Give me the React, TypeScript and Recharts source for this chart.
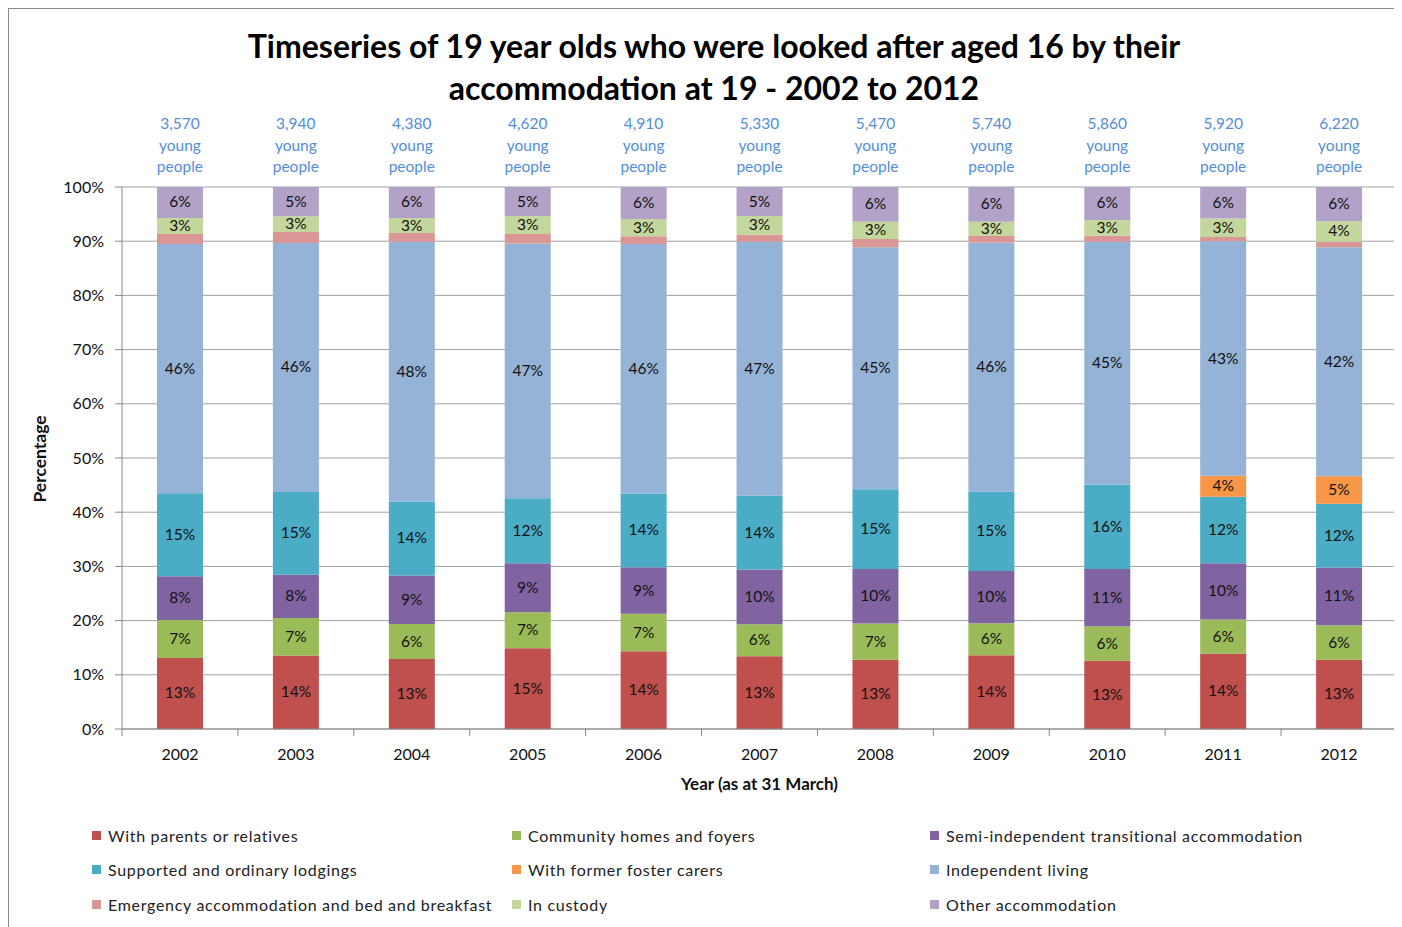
import { BarChart, Bar, XAxis, YAxis, CartesianGrid, LabelList } from 'recharts';

const years = ['2002', '2003', '2004', '2005', '2006', '2007', '2008', '2009', '2010', '2011', '2012'];
const totals = ['3,570', '3,940', '4,380', '4,620', '4,910', '5,330', '5,470', '5,740', '5,860', '5,920', '6,220'];

const parents = [13.1, 13.55, 12.9, 14.9, 14.36, 13.4, 12.76, 13.55, 12.6, 13.87, 12.76];
const community = [7.0, 6.9, 6.45, 6.65, 6.9, 5.9, 6.7, 5.9, 6.4, 6.3, 6.4];
const semiIndependent = [8.1, 7.95, 8.95, 9.0, 8.6, 10.07, 10.07, 9.6, 10.6, 10.4, 10.65];
const supported = [15.3, 15.25, 13.65, 12.0, 13.6, 13.6, 14.7, 14.6, 15.6, 12.25, 11.75];
const fosterCarers = [0, 0, 0, 0, 0, 0, 0, 0, 0, 3.85, 5.1];
const independent = [46.0, 45.85, 47.85, 47.0, 46.1, 46.8, 44.7, 45.85, 44.9, 43.25, 42.25];
const emergency = [1.85, 2.0, 1.6, 1.75, 1.4, 1.3, 1.5, 1.2, 1.1, 0.8, 1.0];
const custody = [2.95, 2.9, 2.8, 3.3, 3.2, 3.45, 3.2, 2.6, 2.9, 3.4, 3.8];
const other = [5.7, 5.4, 5.7, 5.35, 5.9, 5.35, 6.4, 6.4, 6.1, 5.8, 6.3];

const yTicks = [0, 0.1, 0.2, 0.3, 0.4, 0.5, 0.6, 0.7, 0.8, 0.9, 1];

const series = [
  { key: 'parents', name: 'With parents or relatives', color: '#C0504D', values: parents, label: true },
  { key: 'community', name: 'Community homes and foyers', color: '#9BBB59', values: community, label: true },
  { key: 'semi', name: 'Semi-independent transitional accommodation', color: '#8064A2', values: semiIndependent, label: true },
  { key: 'supported', name: 'Supported and ordinary lodgings', color: '#4BACC6', values: supported, label: true },
  { key: 'foster', name: 'With former foster carers', color: '#F79646', values: fosterCarers, label: true },
  { key: 'independent', name: 'Independent living', color: '#95B3D7', values: independent, label: true },
  { key: 'emergency', name: 'Emergency accommodation and bed and breakfast', color: '#D99694', values: emergency, label: false },
  { key: 'custody', name: 'In custody', color: '#C3D69B', values: custody, label: true },
  { key: 'other', name: 'Other accommodation', color: '#B3A2C7', values: other, label: true },
];

// legend is laid out in three columns, like the original
const legendOrder = [
  ['parents', 'community', 'semi'],
  ['supported', 'foster', 'independent'],
  ['emergency', 'custody', 'other'],
];

const data = years.map((year, i) => {
  const row: any = { year };
  series.forEach((s) => {
    row[s.key] = s.values[i];
  });
  return row;
});

const FONT = 'Lato, "Open Sans", sans-serif';

const makeLabel = (values: number[]) => (props: any) => {
  const { x, y, width, height, index, value } = props;
  const v = typeof value === 'number' ? value : values[index];
  if (!v || height < 8) return null;
  return (
    <text
      x={x + width / 2}
      y={y + height / 2}
      dy={5}
      textAnchor="middle"
      fontSize={15.5}
      fontFamily={FONT}
      fill="#111"
    >
      {Math.round(v)}%
    </text>
  );
};

const YearTick = (props: any) => {
  const { x, y, payload, index } = props;
  const half = payload.offset || 0;
  return (
    <g>
      <line x1={x - half} x2={x - half} y1={y} y2={y + 7} stroke="#888" />
      {index === years.length - 1 && (
        <line x1={x + half} x2={x + half} y1={y} y2={y + 7} stroke="#888" />
      )}
      <text x={x} y={y + 31} textAnchor="middle" fontSize={16} fontFamily={FONT} fill="#111">
        {payload.value}
      </text>
    </g>
  );
};

const TotalTick = (props: any) => {
  const { x, y, index } = props;
  return (
    <text textAnchor="middle" fontSize={15.5} fontFamily={FONT} fill="#558ED5">
      <tspan x={x} y={y - 58}>{totals[index]}</tspan>
      <tspan x={x} y={y - 36}>young</tspan>
      <tspan x={x} y={y - 15}>people</tspan>
    </text>
  );
};

export default function App() {
  return (
    <div
      style={{
        position: 'relative',
        width: 1393,
        height: 918,
        borderLeft: '1px solid #8a8a8a',
        borderTop: '1px solid #8a8a8a',
        fontFamily: FONT,
        background: '#fff',
      }}
    >
      <div
        style={{
          position: 'absolute',
          top: 16,
          left: 0,
          width: 1410,
          textAlign: 'center',
          fontSize: 32,
          fontWeight: 700,
          lineHeight: '42px',
          color: '#000',
        }}
      >
        Timeseries of 19 year olds who were looked after aged 16 by their
        <br />
        accommodation at 19 - 2002 to 2012
      </div>

      <div style={{ position: 'absolute', top: 0, left: 0 }}>
        <BarChart
          width={1393}
          height={800}
          data={data}
          stackOffset="expand"
          margin={{ top: 108, right: 5, left: 40, bottom: 10 }}
        >
          <CartesianGrid vertical={false} stroke="#a0a0a0" />
          <XAxis
            dataKey="year"
            height={70}
            tickLine={false}
            tickSize={0}
            tickMargin={0}
            axisLine={{ stroke: '#888' }}
            tick={<YearTick />}
            interval={0}
            label={{
              content: (p: any) => {
                const vb = p.viewBox;
                return (
                  <text
                    x={vb.x + vb.width / 2}
                    y={vb.y + 61}
                    textAnchor="middle"
                    fontSize={17}
                    fontWeight={700}
                    fontFamily={FONT}
                    fill="#111"
                  >
                    Year (as at 31 March)
                  </text>
                );
              },
            }}
          />
          <XAxis
            xAxisId="top"
            dataKey="year"
            orientation="top"
            height={70}
            tickLine={false}
            axisLine={false}
            tickSize={0}
            tickMargin={0}
            interval={0}
            tick={<TotalTick />}
          />
          <YAxis
            width={73}
            domain={[0, 1]}
            ticks={yTicks}
            tickFormatter={(v: number) => `${Math.round(v * 100)}%`}
            tickSize={7}
            tickMargin={11}
            axisLine={{ stroke: '#888' }}
            tickLine={{ stroke: '#888' }}
            tick={{ fontSize: 16, fontFamily: FONT, fill: '#111' }}
            label={{
              content: (p: any) => {
                const vb = p.viewBox;
                const cx = vb.x - 3;
                const cy = vb.y + vb.height / 2 + 1;
                return (
                  <text
                    x={cx}
                    y={cy}
                    transform={`rotate(-90, ${cx}, ${cy})`}
                    textAnchor="middle"
                    fontSize={17.5}
                    fontWeight={700}
                    fontFamily={FONT}
                    fill="#111"
                  >
                    Percentage
                  </text>
                );
              },
            }}
          />
          {series.map((s) => (
            <Bar
              key={s.key}
              dataKey={s.key}
              name={s.name}
              stackId="a"
              fill={s.color}
              barSize={46}
              isAnimationActive={false}
            >
              {s.label && <LabelList dataKey={s.key} content={makeLabel(s.values)} />}
            </Bar>
          ))}
        </BarChart>
      </div>

      <div style={{ position: 'absolute', top: 809, left: 83 }}>
        {legendOrder.map((row, r) => (
          <div key={r} style={{ display: 'flex', height: 34.5, alignItems: 'center' }}>
            {row.map((k, c) => {
              const s = series.find((x) => x.key === k)!;
              return (
                <div
                  key={k}
                  style={{
                    width: c === 0 ? 420 : 418,
                    display: 'flex',
                    alignItems: 'center',
                    fontSize: 16,
                    letterSpacing: '0.7px',
                    color: '#222',
                    whiteSpace: 'nowrap',
                  }}
                >
                  <span
                    style={{
                      display: 'inline-block',
                      flexShrink: 0,
                      width: 9,
                      height: 9,
                      background: s.color,
                      marginRight: 7,
                    }}
                  />
                  {s.name}
                </div>
              );
            })}
          </div>
        ))}
      </div>
    </div>
  );
}
